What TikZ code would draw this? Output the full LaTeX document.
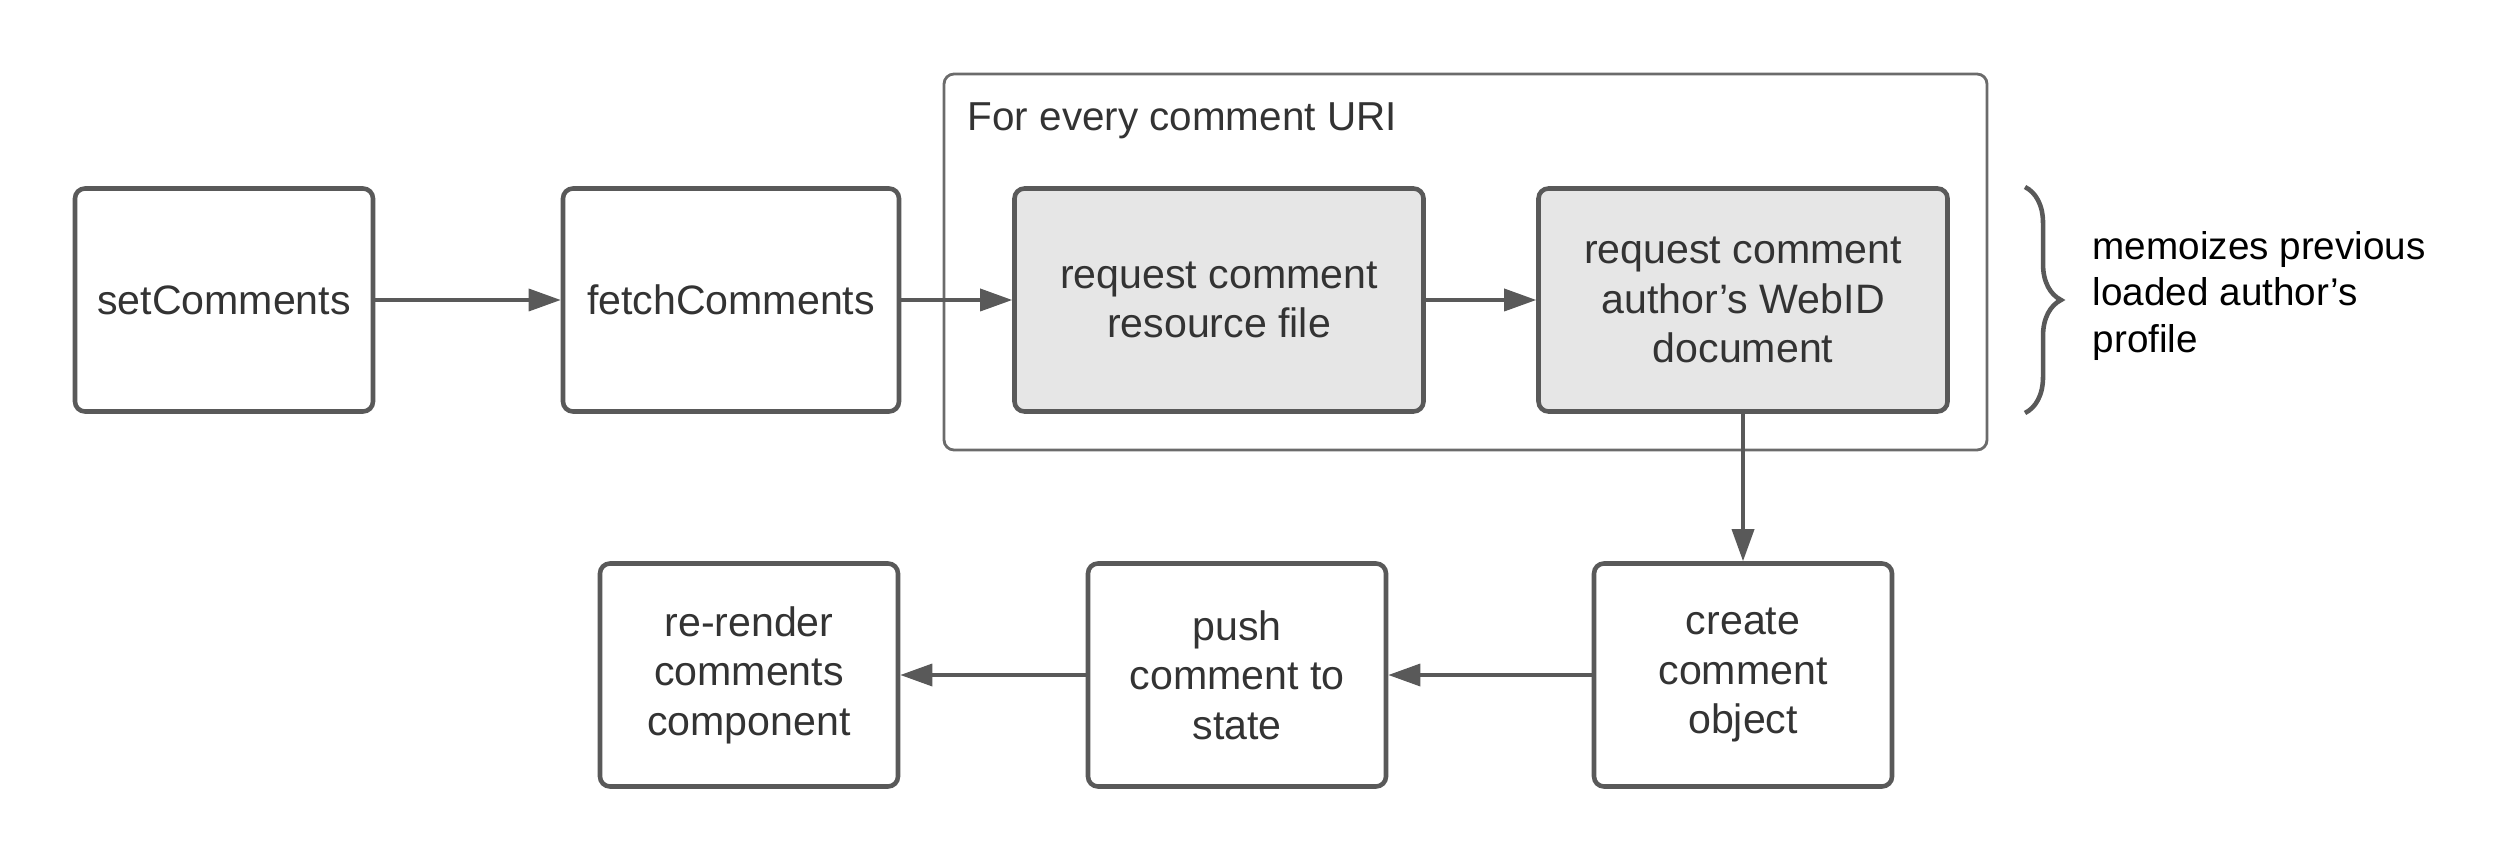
\documentclass[tikz,border=0pt]{standalone}
\usepackage{fontspec}
\setmainfont{Liberation Sans}
\usetikzlibrary{arrows.meta,decorations.pathreplacing}
\definecolor{boxline}{HTML}{595959}
\definecolor{frameline}{HTML}{6B6B6B}
\definecolor{boxtext}{HTML}{333333}
\definecolor{reqfill}{HTML}{E6E6E6}

\begin{document}
\begin{tikzpicture}[
    x=0.1mm,y=-0.1mm,
    box/.style={draw=boxline,line width=1.3pt,rounded corners=1mm,minimum width=29.8mm,minimum height=22.3mm,align=center,text=boxtext,font=\fontsize{11.7}{14.1}\selectfont},
    req/.style={box,fill=reqfill,minimum width=40.9mm},
    frame/.style={draw=frameline,line width=0.8pt,rounded corners=1mm,minimum width=104.3mm,minimum height=37.6mm},
    flow/.style={draw=boxline,line width=1pt,-{Triangle[length=3.2mm,width=2.2mm]}}
    ]
    \useasboundingbox (0,0) rectangle (2513,863);
    \node[frame] (uri) at (1465.5,262) {};
    \node[anchor=base west,inner sep=0,text=boxtext,font=\fontsize{11.5}{14}\selectfont] (urilabel) at (967,131) {For every comment URI};
    \node[box] (setc) at (224,300) {setComments};
    \node[box,minimum width=33.6mm] (fetchc) at (731,300) {fetchComments};
    \node[req] (reqres) at (1219,300) {request comment\\resource file};
    \node[req] (reqweb) at (1743,300) {request comment\\author's WebID\\document};
    \node[box] (create) at (1743,675) {create\\comment\\object};
    \node[box] (push) at (1237,675) {push\\comment to\\state};
    \node[box] (rerender) at (749,675) {re-render\\comments\\component};
    \draw[decorate,decoration={brace,amplitude=3.6mm},draw=boxline,line width=1.3pt] (2025,187) -- (2025,413);
    \node[anchor=west,inner sep=0,align=left,text=black,font=\fontsize{11}{13.2}\selectfont] (memo) at (2092,296) {memoizes previous\\loaded author's\\profile};
    \draw[flow] (setc) -- (fetchc);
    \draw[flow] (fetchc) -- (reqres);
    \draw[flow] (reqres) -- (reqweb);
    \draw[flow] (reqweb) -- (create);
    \draw[flow] (create) -- (push);
    \draw[flow] (push) -- (rerender);
\end{tikzpicture}
\end{document}
